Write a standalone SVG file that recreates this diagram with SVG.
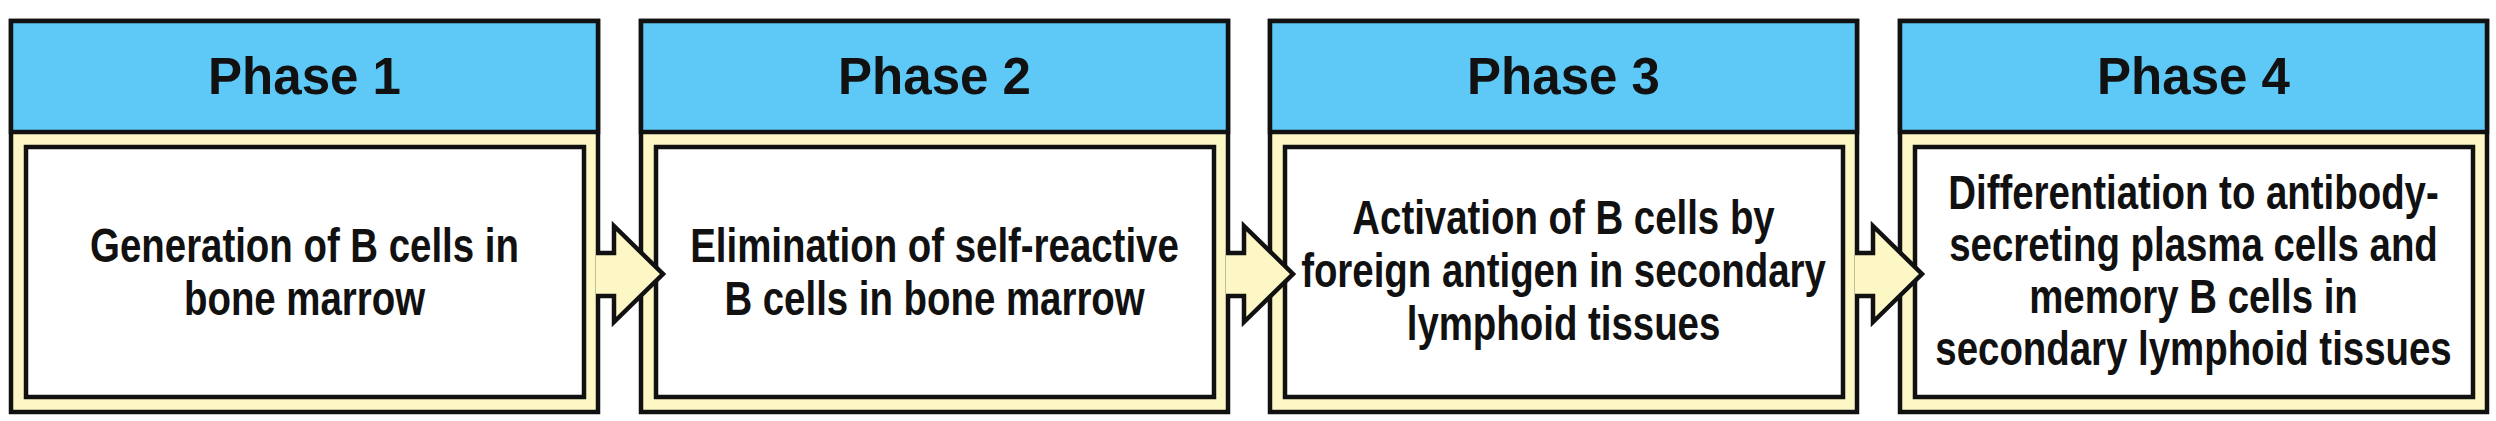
<svg xmlns="http://www.w3.org/2000/svg" width="2496" height="421" viewBox="0 0 2496 421">
<style>
.outer{fill:#fdf7c5;stroke:#111;stroke-width:4.5}
.head{fill:#5ec8f6;stroke:#111;stroke-width:4.5}
.inner{fill:#fff;stroke:#111;stroke-width:4.5}
.title{font-family:"Liberation Sans",Arial,sans-serif;font-weight:bold;font-size:51px;fill:#111;text-anchor:middle}
.body{font-family:"Liberation Sans",Arial,sans-serif;font-weight:bold;font-size:48px;fill:#111;text-anchor:middle}
.arrow{fill:#fdf7c5;stroke:#111;stroke-width:4.5;stroke-linejoin:miter}
</style>
<rect width="2496" height="421" fill="#fff"/>
<g id="phase1">
<rect class="outer" x="11" y="21" width="587" height="391"/>
<rect class="head" x="11" y="21" width="587" height="111"/>
<rect class="inner" x="26" y="147" width="558" height="250"/>
<text class="title" x="304.5" y="94">Phase 1</text>
<g transform="translate(304.5,0) scale(0.8,1)">
<text class="body" x="0" y="262">Generation of B cells in</text>
<text class="body" x="0" y="315">bone marrow</text>
</g>
</g>
<g id="phase2">
<rect class="outer" x="641" y="21" width="587" height="391"/>
<rect class="head" x="641" y="21" width="587" height="111"/>
<rect class="inner" x="656" y="147" width="558" height="250"/>
<text class="title" x="934.5" y="94">Phase 2</text>
<g transform="translate(934.5,0) scale(0.8,1)">
<text class="body" x="0" y="262">Elimination of self-reactive</text>
<text class="body" x="0" y="315">B cells in bone marrow</text>
</g>
</g>
<g id="phase3">
<rect class="outer" x="1270" y="21" width="587" height="391"/>
<rect class="head" x="1270" y="21" width="587" height="111"/>
<rect class="inner" x="1285" y="147" width="558" height="250"/>
<text class="title" x="1563.5" y="94">Phase 3</text>
<g transform="translate(1563.5,0) scale(0.8,1)">
<text class="body" x="0" y="234">Activation of B cells by</text>
<text class="body" x="0" y="287">foreign antigen in secondary</text>
<text class="body" x="0" y="340">lymphoid tissues</text>
</g>
</g>
<g id="phase4">
<rect class="outer" x="1900" y="21" width="587" height="391"/>
<rect class="head" x="1900" y="21" width="587" height="111"/>
<rect class="inner" x="1915" y="147" width="558" height="250"/>
<text class="title" x="2193.5" y="94">Phase 4</text>
<g transform="translate(2193.5,0) scale(0.8,1)">
<text class="body" x="0" y="209">Differentiation to antibody-</text>
<text class="body" x="0" y="261">secreting plasma cells and</text>
<text class="body" x="0" y="313">memory B cells in</text>
<text class="body" x="0" y="365">secondary lymphoid tissues</text>
</g>
</g>
<g id="connectors">
<path class="arrow" d="M596,253 L614,253 L614,226 L663,274 L614,322 L614,296 L596,296"/>
<path class="arrow" d="M1226,253 L1244,253 L1244,226 L1293,274 L1244,322 L1244,296 L1226,296"/>
<path class="arrow" d="M1855,253 L1873,253 L1873,226 L1922,274 L1873,322 L1873,296 L1855,296"/>
</g>
</svg>
